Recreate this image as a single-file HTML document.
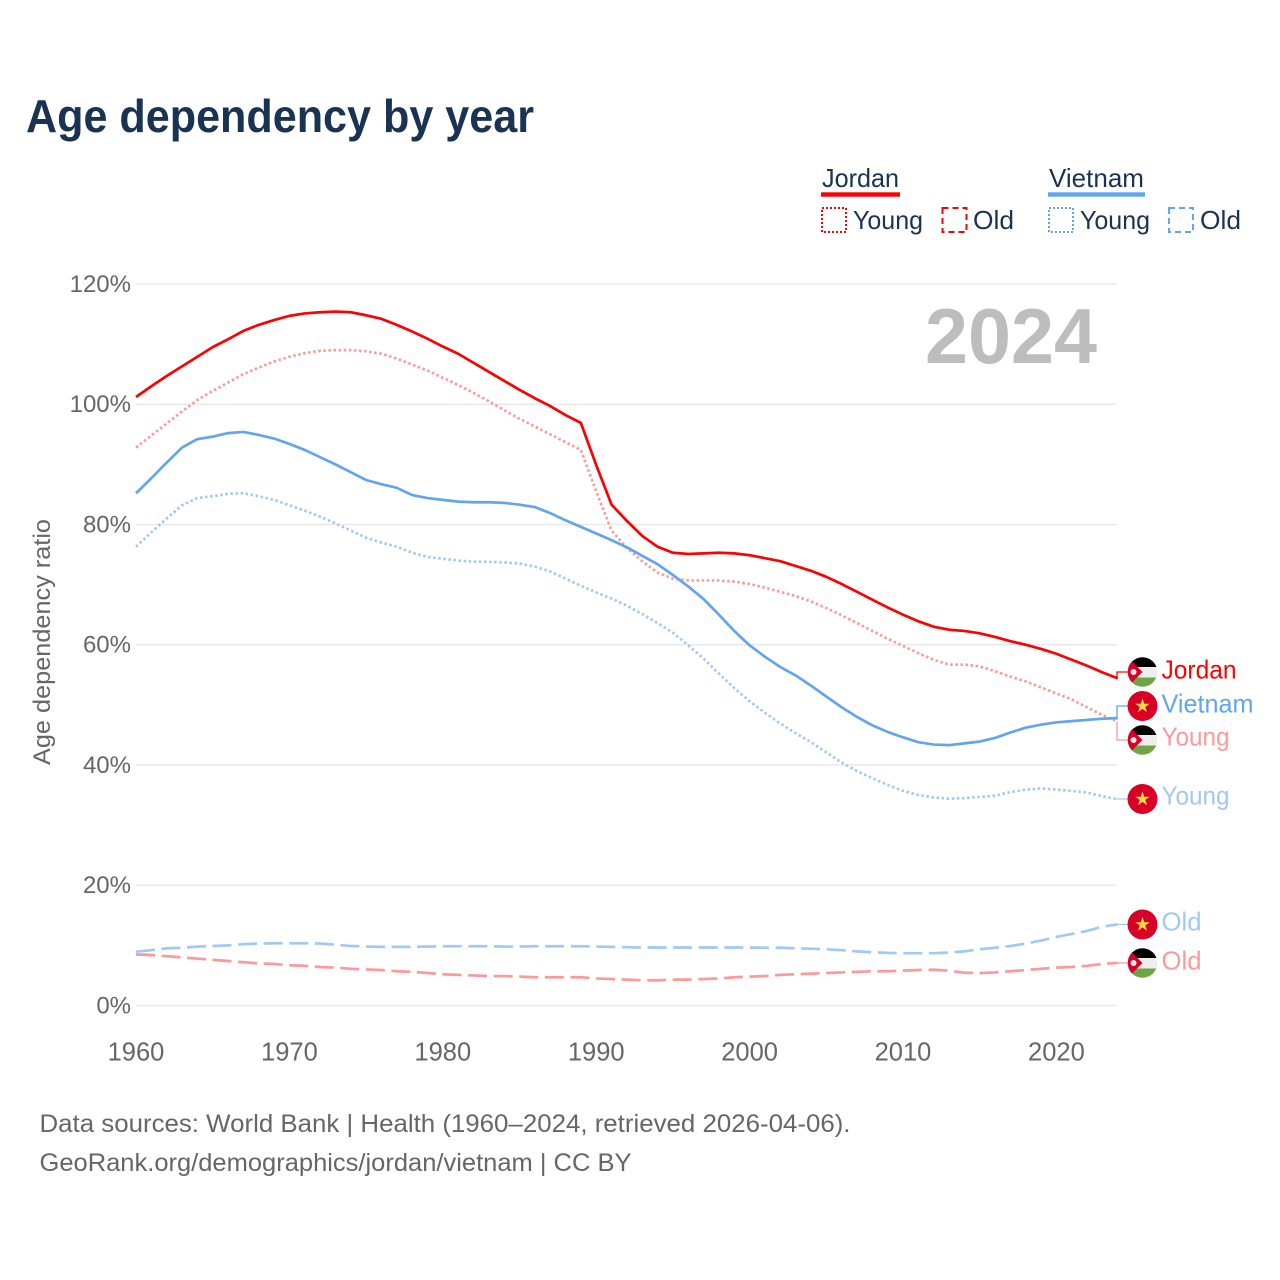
<!DOCTYPE html>
<html lang="en">
<head>
<meta charset="utf-8">
<title>Age dependency by year</title>
<style>
html,body{margin:0;padding:0;background:#fff;}
svg{display:block;font-family:"Liberation Sans",sans-serif;}
</style>
</head>
<body>
<svg id="chart" xmlns="http://www.w3.org/2000/svg" width="1280" height="1280" viewBox="0 0 1280 1280">
  <defs>
    <clipPath id="flag-clip"><circle cx="0" cy="0" r="14.8"/></clipPath>
    <g id="flag-jordan" clip-path="url(#flag-clip)">
      <rect x="-15" y="-15" width="30" height="10" fill="#000"/>
      <rect x="-15" y="-5" width="30" height="10.5" fill="#eee"/>
      <rect x="-15" y="5.5" width="30" height="10" fill="#6da544"/>
      <polygon points="-15,-15 0,0 -15,15" fill="#d80027"/>
      <circle cx="-9" cy="0" r="3" fill="#eee"/>
    </g>
    <g id="flag-vietnam">
      <circle cx="0" cy="0" r="15" fill="#d80027"/>
      <polygon points="0,-7.6 1.8,-2.3 7.3,-2.3 2.8,0.9 4.5,6.2 0,2.9 -4.5,6.2 -2.8,0.9 -7.3,-2.3 -1.8,-2.3" fill="#ffda44"/>
    </g>
  </defs>

  <text x="26" y="132" font-size="46" font-weight="700" fill="#1a3352" textLength="508" lengthAdjust="spacingAndGlyphs">Age dependency by year</text>

  <g id="grid"></g>
  <g id="y-ticks"></g>
  <g id="x-ticks"></g>

  <text transform="translate(50,642) rotate(-90)" text-anchor="middle" font-size="24" fill="#666" textLength="246" lengthAdjust="spacingAndGlyphs">Age dependency ratio</text>

  <text x="925" y="363" font-size="78" font-weight="700" fill="#bdbdbd" textLength="172" lengthAdjust="spacingAndGlyphs">2024</text>

  <g id="series"></g>
  <g id="connectors"></g>

  <g font-size="26" fill="#1a3352">
    <text x="822" y="187" textLength="77" lengthAdjust="spacingAndGlyphs">Jordan</text>
    <rect x="821" y="192.3" width="79" height="4.4" fill="#ff0000"/>
    <rect x="822" y="208" width="24" height="24" fill="none" stroke="#ff0000" stroke-width="2" stroke-dasharray="2 2"/>
    <text x="853" y="229" textLength="70" lengthAdjust="spacingAndGlyphs">Young</text>
    <rect x="942.5" y="208" width="24" height="24" fill="none" stroke="#ff0000" stroke-width="2" stroke-dasharray="6 4"/>
    <text x="973" y="229" textLength="41" lengthAdjust="spacingAndGlyphs">Old</text>

    <text x="1049" y="187" textLength="95" lengthAdjust="spacingAndGlyphs">Vietnam</text>
    <rect x="1048" y="192.3" width="97" height="4.4" fill="#62a5ee"/>
    <rect x="1049" y="208" width="24" height="24" fill="none" stroke="#62a5ee" stroke-width="2" stroke-dasharray="2 2"/>
    <text x="1080" y="229" textLength="70" lengthAdjust="spacingAndGlyphs">Young</text>
    <rect x="1169" y="208" width="24" height="24" fill="none" stroke="#62a5ee" stroke-width="2" stroke-dasharray="6 4"/>
    <text x="1200" y="229" textLength="41" lengthAdjust="spacingAndGlyphs">Old</text>
  </g>

  <g font-size="26">
    <use href="#flag-jordan" x="1142.5" y="672"/>
    <text x="1161.5" y="678.5" fill="#ff0000" textLength="75" lengthAdjust="spacingAndGlyphs">Jordan</text>
    <use href="#flag-jordan" x="1142.5" y="740"/>
    <text x="1161.5" y="745.5" fill="#ff9999" textLength="68" lengthAdjust="spacingAndGlyphs">Young</text>
    <use href="#flag-vietnam" x="1142.5" y="706"/>
    <text x="1161.5" y="712.5" fill="#62a5ee" textLength="92" lengthAdjust="spacingAndGlyphs">Vietnam</text>
    <use href="#flag-vietnam" x="1142.5" y="799"/>
    <text x="1161.5" y="804.5" fill="#a1c9f4" textLength="68" lengthAdjust="spacingAndGlyphs">Young</text>
    <use href="#flag-vietnam" x="1142.5" y="924.5"/>
    <text x="1161.5" y="930.5" fill="#a1c9f4" textLength="40" lengthAdjust="spacingAndGlyphs">Old</text>
    <use href="#flag-jordan" x="1142.5" y="963"/>
    <text x="1161.5" y="969.5" fill="#ff9999" textLength="40" lengthAdjust="spacingAndGlyphs">Old</text>
  </g>

  <text x="39.5" y="1132" font-size="25" fill="#666" textLength="811" lengthAdjust="spacingAndGlyphs">Data sources: World Bank | Health (1960–2024, retrieved 2026-04-06).</text>
  <text x="39.5" y="1171" font-size="25" fill="#666" textLength="592" lengthAdjust="spacingAndGlyphs">GeoRank.org/demographics/jordan/vietnam | CC BY</text>
</svg>

<script>
var startYear = 1960;
var yTickValues = [0, 20, 40, 60, 80, 100, 120];
var xTickValues = [1960, 1970, 1980, 1990, 2000, 2010, 2020];

var jordanTotal = [101.2,103.0,104.7,106.3,107.9,109.5,110.8,112.2,113.2,114.0,114.7,115.1,115.3,115.4,115.3,114.8,114.2,113.2,112.1,110.9,109.6,108.4,106.9,105.4,103.9,102.4,101.0,99.7,98.2,96.9,89.9,83.3,80.6,78.1,76.3,75.3,75.1,75.2,75.3,75.2,74.9,74.4,73.9,73.1,72.3,71.3,70.1,68.8,67.5,66.2,65.0,63.9,63.0,62.5,62.3,61.9,61.3,60.6,60.0,59.3,58.5,57.5,56.5,55.4,54.4];
var jordanYoung = [92.8,94.8,96.8,98.8,100.7,102.2,103.6,105.0,106.1,107.1,107.9,108.5,108.9,109.0,109.0,108.8,108.4,107.6,106.6,105.6,104.4,103.2,101.9,100.5,99.0,97.6,96.3,95.0,93.7,92.4,85.5,79.0,76.1,73.9,72.0,71.0,70.7,70.7,70.7,70.5,70.1,69.5,68.8,68.1,67.2,66.1,64.9,63.6,62.3,61.0,59.8,58.6,57.5,56.7,56.7,56.4,55.6,54.7,53.9,52.9,51.9,50.9,49.6,48.3,47.2];
var jordanOld = [8.5,8.4,8.2,8.0,7.8,7.6,7.4,7.2,7.0,6.9,6.7,6.6,6.4,6.3,6.1,6.0,5.9,5.7,5.6,5.4,5.2,5.1,5.0,4.9,4.9,4.8,4.7,4.7,4.7,4.7,4.5,4.4,4.3,4.2,4.2,4.3,4.3,4.4,4.5,4.7,4.8,4.9,5.1,5.2,5.3,5.4,5.5,5.6,5.7,5.7,5.8,5.9,5.95,5.8,5.45,5.4,5.5,5.7,5.9,6.1,6.3,6.4,6.6,6.9,7.1];
var vietnamTotal = [85.2,87.7,90.3,92.8,94.2,94.6,95.2,95.4,94.9,94.3,93.4,92.4,91.2,90.0,88.7,87.4,86.7,86.1,84.9,84.4,84.1,83.8,83.7,83.7,83.6,83.3,82.9,81.9,80.7,79.6,78.5,77.4,76.2,74.8,73.4,71.6,69.7,67.6,65.0,62.3,59.9,58.0,56.3,54.9,53.2,51.4,49.6,48.0,46.6,45.5,44.6,43.8,43.4,43.3,43.6,43.9,44.5,45.4,46.2,46.7,47.1,47.3,47.5,47.7,47.8];
var vietnamYoung = [76.3,78.7,81.0,83.2,84.4,84.7,85.1,85.2,84.7,84.1,83.2,82.3,81.3,80.2,79.0,77.8,77.0,76.3,75.3,74.6,74.3,74.0,73.8,73.8,73.7,73.5,73.0,72.2,71.0,69.8,68.7,67.7,66.5,65.1,63.6,62.0,59.9,57.7,55.2,52.8,50.6,48.7,46.9,45.3,43.8,42.1,40.4,39.0,37.8,36.7,35.7,35.0,34.6,34.4,34.5,34.7,34.9,35.5,35.9,36.1,35.9,35.7,35.4,34.8,34.3];
var vietnamOld = [8.95,9.2,9.5,9.6,9.8,9.9,10.0,10.2,10.3,10.35,10.35,10.35,10.3,10.1,9.9,9.8,9.75,9.75,9.75,9.8,9.85,9.85,9.85,9.85,9.8,9.8,9.85,9.85,9.85,9.85,9.8,9.75,9.7,9.65,9.65,9.65,9.65,9.65,9.65,9.65,9.65,9.6,9.6,9.5,9.45,9.35,9.2,9.0,8.85,8.75,8.7,8.7,8.7,8.8,9.0,9.35,9.6,9.9,10.3,10.8,11.4,11.9,12.4,13.1,13.5];

var SVG_NS = 'http://www.w3.org/2000/svg';
function xScale(year) { return 136 + (year - startYear) * 15.34; }
function yScale(pct) { return 1005.5 - pct * 6.0125; }
function pathFor(values) {
  var d = '';
  for (var i = 0; i < values.length; i++) {
    d += (i ? 'L' : 'M') + xScale(startYear + i).toFixed(2) + ' ' + yScale(values[i]).toFixed(2);
  }
  return d;
}
function make(tag, parent) {
  var el = document.createElementNS(SVG_NS, tag);
  document.getElementById(parent).appendChild(el);
  return el;
}

yTickValues.forEach(function (v) {
  var line = make('line', 'grid');
  
  
  line.setAttribute('x1', 136);
  line.setAttribute('x2', 1117);
  line.setAttribute('y1', yScale(v));
  line.setAttribute('y2', yScale(v));
  line.setAttribute('stroke', '#e9e9e9');
  line.setAttribute('stroke-width', 1.5);
  var label = make('text', 'y-ticks');
  
  
  label.setAttribute('x', 131);
  label.setAttribute('y', yScale(v) + 7.8);
  label.setAttribute('text-anchor', 'end');
  label.setAttribute('font-size', 24);
  label.setAttribute('fill', '#666');
  label.textContent = v + '%';
});

xTickValues.forEach(function (v) {
  var label = make('text', 'x-ticks');
  
  
  label.setAttribute('x', xScale(v));
  label.setAttribute('y', 1060.5);
  label.setAttribute('text-anchor', 'middle');
  label.setAttribute('font-size', 25.5);
  label.setAttribute('fill', '#666');
  label.textContent = v;
});

function drawLine(values, color, dash, name) {
  var p = make('path', 'series');
  
  
  p.setAttribute('d', pathFor(values));
  p.setAttribute('fill', 'none');
  p.setAttribute('stroke', color);
  p.setAttribute('stroke-width', 2.7);
  p.setAttribute('stroke-linejoin', 'round');
  if (dash) p.setAttribute('stroke-dasharray', dash);
}
drawLine(jordanOld, '#ff9999', '19 6.6', 'line-jordan-old');
drawLine(vietnamOld, '#a1c9f4', '19 6.6', 'line-vietnam-old');
drawLine(vietnamYoung, '#a1c9f4', '2.5 2.6', 'line-vietnam-young');
drawLine(jordanYoung, '#ff9999', '2.5 2.6', 'line-jordan-young');
drawLine(jordanTotal, '#ff0000', null, 'line-jordan-total');
drawLine(vietnamTotal, '#62a5ee', null, 'line-vietnam-total');

function drawConnector(values, labelY, color, name) {
  var y0 = yScale(values[values.length - 1]);
  var c = make('path', 'connectors');
  
  
  c.setAttribute('d', 'M1117 ' + y0.toFixed(2) + 'V' + labelY + 'H1128');
  c.setAttribute('fill', 'none');
  c.setAttribute('stroke', color);
  c.setAttribute('stroke-width', 1.3);
}
drawConnector(jordanTotal, 672, '#ff0000', 'connector-jordan-total');
drawConnector(vietnamTotal, 706, '#62a5ee', 'connector-vietnam-total');
drawConnector(jordanYoung, 740, '#ff9999', 'connector-jordan-young');
drawConnector(vietnamYoung, 799, '#a1c9f4', 'connector-vietnam-young');
drawConnector(vietnamOld, 924.5, '#a1c9f4', 'connector-vietnam-old');
drawConnector(jordanOld, 963, '#ff9999', 'connector-jordan-old');
</script>
</body>
</html>
